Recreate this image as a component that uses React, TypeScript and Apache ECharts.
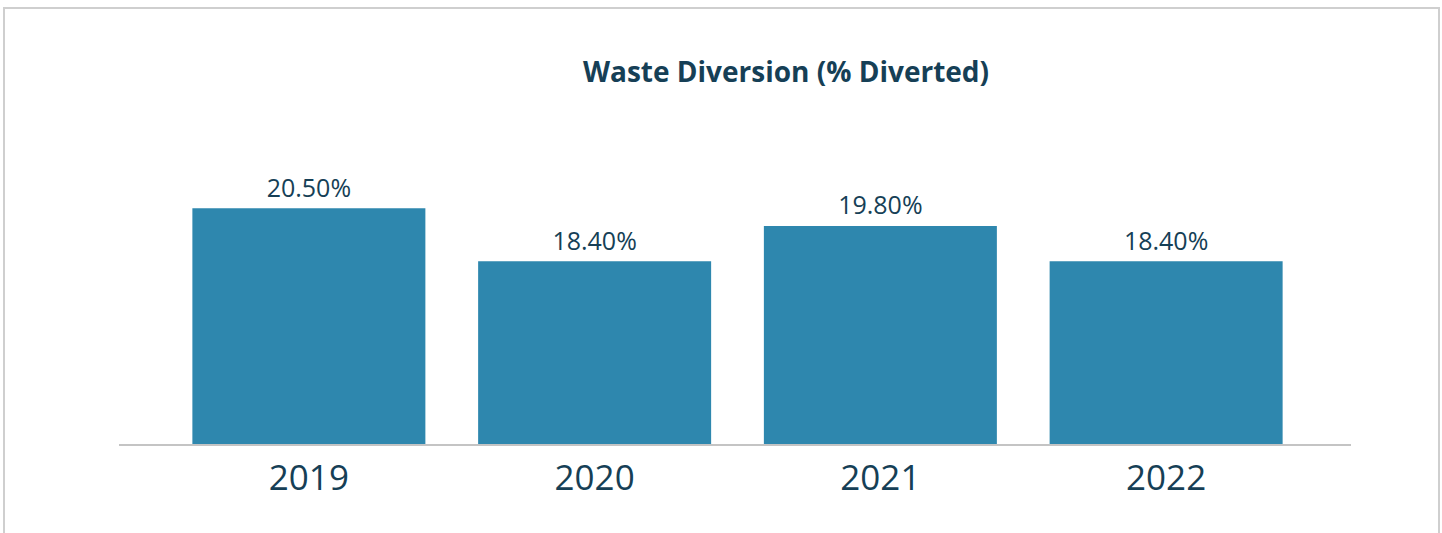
import React, { useEffect, useRef } from "react";
import * as echarts from "echarts";

const categories = ["2019", "2020", "2021", "2022"];
const diversionPct = [20.5, 18.4, 19.8, 18.4];
const titleText = "Waste Diversion (% Diverted)";

export default function App() {
  const ref = useRef<HTMLDivElement>(null);
  useEffect(() => {
    if (!ref.current) return;
    const chart = echarts.init(ref.current, null, { renderer: "svg" });
    const dark = "#163f56";
    chart.setOption({
      animation: false,
      backgroundColor: "#ffffff",
      title: {
        text: titleText,
        left: 781,
        top: 52,
        textAlign: "center",
        textStyle: {
          fontFamily: "Open Sans",
          fontWeight: "bold",
          fontSize: 28,
          color: dark,
        },
      },
      graphic: [
        {
          type: "rect",
          shape: { x: 4, y: 8, width: 1435, height: 560 },
          style: { fill: "none", stroke: "#cfcfcf", lineWidth: 2 },
          z: 0,
        },
        {
          type: "line",
          shape: { x1: 119, y1: 445, x2: 1351, y2: 445 },
          style: { stroke: "#c4c4c4", lineWidth: 2 },
          z: 100,
        },
      ],
      grid: { left: 166, right: 133, top: 95, bottom: 533 - 445 },
      xAxis: {
        type: "category",
        data: categories,
        axisLine: { show: false },
        axisTick: { show: false },
        axisLabel: {
          fontFamily: "Open Sans",
          fontSize: 35,
          color: dark,
          margin: 14,
        },
      },
      yAxis: {
        type: "value",
        min: 11.1,
        max: 25,
        show: false,
        splitLine: { show: false },
      },
      series: [
        {
          type: "bar",
          data: diversionPct,
          barWidth: 233,
          itemStyle: { color: "#2e87ae" },
          label: {
            show: true,
            position: "top",
            distance: 9,
            formatter: (p: any) => p.value.toFixed(2) + "%",
            fontFamily: "Open Sans",
            fontSize: 25,
            color: dark,
          },
        },
      ],
    });
    return () => chart.dispose();
  }, []);
  return (
    <div
      ref={ref}
      style={{ position: "absolute", left: 0, top: 0, width: 1442, height: 533 }}
    />
  );
}
